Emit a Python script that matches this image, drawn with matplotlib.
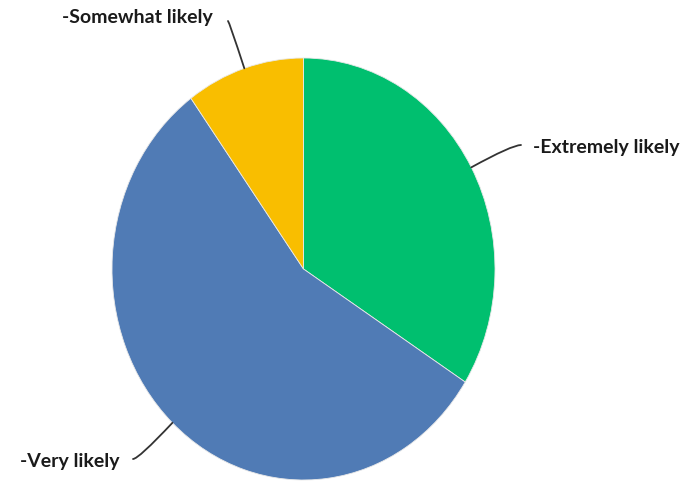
import matplotlib
matplotlib.use("Agg")
import matplotlib.pyplot as plt
import numpy as np

labels = ["-Extremely likely", "-Very likely", "-Somewhat likely"]
values = [34, 56, 10]
colors = ["#00BF6F", "#507BB5", "#F9BE00"]

W, H = 686, 482
fig = plt.figure(figsize=(W / 100, H / 100), dpi=100)
# pie bounding box in pixels (left, right, top, bottom from top)
L, R, T, B = 112, 495, 58, 480
ax = fig.add_axes([L / W, (H - B) / H, (R - L) / W, (B - T) / H])
wedges, _ = ax.pie(values, colors=colors, startangle=90, counterclock=False,
                   wedgeprops=dict(edgecolor="#e8e8e8", linewidth=0.6))
ax.set_aspect("auto")
ax.set_xlim(-1, 1)
ax.set_ylim(-1, 1)
ax.axis("off")

font = dict(family=["Lato", "DejaVu Sans"], fontsize=14, color="#1a1a1a", fontweight="bold")

# text anchors (figure pixels, y from bottom), line starts
text_pos = [(533, H - 148, "left"), (119, H - 461, "right"), (213, H - 18, "right")]
line_start = [(521, H - 145), (133, H - 459), (228, H - 21)]

for w, lab, tp, ls in zip(wedges, labels, text_pos, line_start):
    mid = np.deg2rad((w.theta1 + w.theta2) / 2)
    ex, ey = np.cos(mid), np.sin(mid)
    fig.text(tp[0] / W, tp[1] / H, lab, ha=tp[2], va="center", **font)
    ang = np.rad2deg(mid)
    ax.annotate("", xy=(ex, ey), xycoords="data",
                xytext=ls, textcoords="figure pixels",
                arrowprops=dict(arrowstyle="-", color="#333333", lw=1.3,
                                shrinkA=0, shrinkB=0,
                                connectionstyle=f"angle3,angleA=0,angleB={ang:.1f}"),
                annotation_clip=False)

fig.savefig("out.png", dpi=100, facecolor="white")
